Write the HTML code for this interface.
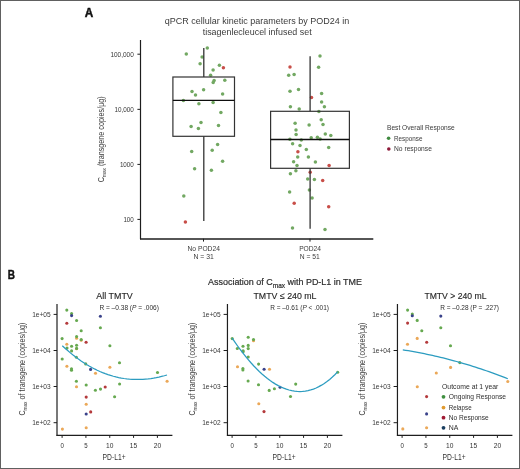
<!DOCTYPE html>
<html><head><meta charset="utf-8"><style>
html,body{margin:0;padding:0;background:#fff;}
svg{display:block;font-family:"Liberation Sans", sans-serif;will-change:transform;}
</style></head><body>
<svg width="520" height="469" viewBox="0 0 520 469">
<rect width="520" height="469" fill="#fff"/>
<rect x="0.5" y="0.5" width="519" height="468" fill="none" stroke="#606060" stroke-width="1"/>
<text x="84.8" y="17.0" font-size="11.9" textLength="8.5" lengthAdjust="spacingAndGlyphs" font-weight="bold" fill="#111" stroke="#111" stroke-width="0.45">A</text>
<text x="257" y="23.8" font-size="8.2" text-anchor="middle" textLength="184.3" lengthAdjust="spacingAndGlyphs" fill="#3a3a3a">qPCR cellular kinetic parameters by POD24 in</text>
<text x="257.2" y="34.8" font-size="8.2" text-anchor="middle" textLength="109" lengthAdjust="spacingAndGlyphs" fill="#3a3a3a">tisagenlecleucel infused set</text>
<line x1="140.5" y1="40" x2="140.5" y2="239.2" stroke="#1e1e1e" stroke-width="1.2"/>
<line x1="140" y1="238.9" x2="373.3" y2="238.9" stroke="#1e1e1e" stroke-width="1.5"/>
<line x1="137.4" y1="54.2" x2="140.5" y2="54.2" stroke="#1e1e1e" stroke-width="1"/>
<text x="133.8" y="56.8" font-size="7.3" text-anchor="end" textLength="23.4" lengthAdjust="spacingAndGlyphs" fill="#383838">100,000</text>
<line x1="137.4" y1="109.35" x2="140.5" y2="109.35" stroke="#1e1e1e" stroke-width="1"/>
<text x="133.8" y="111.95" font-size="7.3" text-anchor="end" textLength="19.4" lengthAdjust="spacingAndGlyphs" fill="#383838">10,000</text>
<line x1="137.4" y1="164.4" x2="140.5" y2="164.4" stroke="#1e1e1e" stroke-width="1"/>
<text x="133.8" y="167.0" font-size="7.3" text-anchor="end" textLength="13.9" lengthAdjust="spacingAndGlyphs" fill="#383838">1000</text>
<line x1="137.4" y1="219.4" x2="140.5" y2="219.4" stroke="#1e1e1e" stroke-width="1"/>
<text x="133.8" y="222.0" font-size="7.3" text-anchor="end" textLength="10.4" lengthAdjust="spacingAndGlyphs" fill="#383838">100</text>
<line x1="203.5" y1="238.7" x2="203.5" y2="241.6" stroke="#1e1e1e" stroke-width="1"/>
<line x1="310" y1="238.7" x2="310" y2="241.6" stroke="#1e1e1e" stroke-width="1"/>
<text x="203.7" y="250.7" font-size="6.7" text-anchor="middle" textLength="32.4" lengthAdjust="spacingAndGlyphs" fill="#3a3a3a">No POD24</text>
<text x="203.7" y="258.9" font-size="6.7" text-anchor="middle" textLength="20.3" lengthAdjust="spacingAndGlyphs" fill="#3a3a3a">N = 31</text>
<text x="310.1" y="250.7" font-size="6.7" text-anchor="middle" textLength="21.9" lengthAdjust="spacingAndGlyphs" fill="#3a3a3a">POD24</text>
<text x="309.8" y="258.9" font-size="6.7" text-anchor="middle" textLength="20.0" lengthAdjust="spacingAndGlyphs" fill="#3a3a3a">N = 51</text>
<text transform="translate(103.9,182.3) rotate(-90)" font-size="9" fill="#3a3a3a" textLength="86" lengthAdjust="spacingAndGlyphs">C<tspan font-size="6.0" dy="2.5">max</tspan><tspan dy="-2.5"> (transgene copies/μg)</tspan></text>
<circle cx="186.3" cy="53.9" r="1.75" fill="#72a862"/>
<circle cx="207.3" cy="47.9" r="1.75" fill="#72a862"/>
<circle cx="202.1" cy="57.1" r="1.75" fill="#72a862"/>
<circle cx="200.1" cy="63.7" r="1.75" fill="#72a862"/>
<circle cx="219.4" cy="65.3" r="1.75" fill="#72a862"/>
<circle cx="223.4" cy="67.8" r="1.75" fill="#c84e48"/>
<circle cx="213.1" cy="70.1" r="1.75" fill="#72a862"/>
<circle cx="210.6" cy="75.3" r="1.75" fill="#72a862"/>
<circle cx="214.1" cy="80.6" r="1.75" fill="#72a862"/>
<circle cx="213.2" cy="82.4" r="1.75" fill="#72a862"/>
<circle cx="224.8" cy="80.2" r="1.75" fill="#72a862"/>
<circle cx="192" cy="91.6" r="1.75" fill="#72a862"/>
<circle cx="195.5" cy="95" r="1.75" fill="#72a862"/>
<circle cx="203.6" cy="89.7" r="1.75" fill="#72a862"/>
<circle cx="222.6" cy="94" r="1.75" fill="#72a862"/>
<circle cx="183.4" cy="100.6" r="1.75" fill="#72a862"/>
<circle cx="198.9" cy="103.7" r="1.75" fill="#72a862"/>
<circle cx="213.1" cy="102.4" r="1.75" fill="#72a862"/>
<circle cx="220.9" cy="112.6" r="1.75" fill="#72a862"/>
<circle cx="201" cy="122.5" r="1.75" fill="#72a862"/>
<circle cx="191.1" cy="126.5" r="1.75" fill="#72a862"/>
<circle cx="198.4" cy="128.5" r="1.75" fill="#72a862"/>
<circle cx="218.5" cy="125.4" r="1.75" fill="#72a862"/>
<circle cx="217.6" cy="144.5" r="1.75" fill="#72a862"/>
<circle cx="191.7" cy="151.4" r="1.75" fill="#72a862"/>
<circle cx="212.2" cy="150.2" r="1.75" fill="#72a862"/>
<circle cx="222.6" cy="161.2" r="1.75" fill="#72a862"/>
<circle cx="194.6" cy="168.7" r="1.75" fill="#72a862"/>
<circle cx="211.4" cy="170.3" r="1.75" fill="#72a862"/>
<circle cx="183.8" cy="195.9" r="1.75" fill="#72a862"/>
<circle cx="185.4" cy="221.9" r="1.75" fill="#c84e48"/>
<circle cx="320" cy="56" r="1.75" fill="#72a862"/>
<circle cx="290" cy="66.9" r="1.75" fill="#c84e48"/>
<circle cx="318.6" cy="67.3" r="1.75" fill="#72a862"/>
<circle cx="288.7" cy="75.2" r="1.75" fill="#72a862"/>
<circle cx="294.1" cy="74.4" r="1.75" fill="#72a862"/>
<circle cx="290" cy="91.2" r="1.75" fill="#72a862"/>
<circle cx="298.5" cy="89.5" r="1.75" fill="#72a862"/>
<circle cx="321.6" cy="93.4" r="1.75" fill="#72a862"/>
<circle cx="311.5" cy="97.6" r="1.75" fill="#c84e48"/>
<circle cx="321.6" cy="102.1" r="1.75" fill="#72a862"/>
<circle cx="290.4" cy="106.7" r="1.75" fill="#72a862"/>
<circle cx="299.2" cy="108.9" r="1.75" fill="#72a862"/>
<circle cx="324.4" cy="106.8" r="1.75" fill="#72a862"/>
<circle cx="318.9" cy="111.5" r="1.75" fill="#72a862"/>
<circle cx="321.2" cy="119.8" r="1.75" fill="#72a862"/>
<circle cx="295.1" cy="123.3" r="1.75" fill="#72a862"/>
<circle cx="309.1" cy="125" r="1.75" fill="#72a862"/>
<circle cx="323" cy="124.5" r="1.75" fill="#72a862"/>
<circle cx="296" cy="130.1" r="1.75" fill="#72a862"/>
<circle cx="296.1" cy="134.5" r="1.75" fill="#72a862"/>
<circle cx="325.3" cy="133.9" r="1.75" fill="#72a862"/>
<circle cx="330.8" cy="135.6" r="1.75" fill="#72a862"/>
<circle cx="311.2" cy="137.7" r="1.75" fill="#72a862"/>
<circle cx="317.4" cy="137.2" r="1.75" fill="#72a862"/>
<circle cx="320.1" cy="139" r="1.75" fill="#72a862"/>
<circle cx="289.9" cy="139.3" r="1.75" fill="#72a862"/>
<circle cx="301.3" cy="140" r="1.75" fill="#72a862"/>
<circle cx="292.6" cy="143.7" r="1.75" fill="#72a862"/>
<circle cx="300" cy="145.5" r="1.75" fill="#72a862"/>
<circle cx="328.7" cy="147.6" r="1.75" fill="#72a862"/>
<circle cx="306.3" cy="149.5" r="1.75" fill="#72a862"/>
<circle cx="297.9" cy="151.8" r="1.75" fill="#c84e48"/>
<circle cx="297.7" cy="157.1" r="1.75" fill="#72a862"/>
<circle cx="308.4" cy="156.9" r="1.75" fill="#72a862"/>
<circle cx="293.6" cy="161.8" r="1.75" fill="#72a862"/>
<circle cx="315.4" cy="161.9" r="1.75" fill="#72a862"/>
<circle cx="297" cy="165.4" r="1.75" fill="#72a862"/>
<circle cx="329.1" cy="165.4" r="1.75" fill="#c84e48"/>
<circle cx="295.9" cy="170.7" r="1.75" fill="#72a862"/>
<circle cx="290.4" cy="173.7" r="1.75" fill="#72a862"/>
<circle cx="310.2" cy="172.2" r="1.75" fill="#c84e48"/>
<circle cx="307.7" cy="179" r="1.75" fill="#72a862"/>
<circle cx="314.4" cy="179.6" r="1.75" fill="#72a862"/>
<circle cx="322.7" cy="180.6" r="1.75" fill="#c84e48"/>
<circle cx="289.6" cy="192.1" r="1.75" fill="#72a862"/>
<circle cx="309.4" cy="190" r="1.75" fill="#72a862"/>
<circle cx="312.1" cy="198" r="1.75" fill="#72a862"/>
<circle cx="294.2" cy="203.2" r="1.75" fill="#c84e48"/>
<circle cx="328.7" cy="206.8" r="1.75" fill="#c84e48"/>
<circle cx="292.5" cy="227.9" r="1.75" fill="#72a862"/>
<circle cx="325" cy="229.6" r="1.75" fill="#72a862"/>
<line x1="203.8" y1="48.0" x2="203.8" y2="77.0" stroke="#333" stroke-width="1.3"/>
<line x1="203.8" y1="136.3" x2="203.8" y2="220.9" stroke="#333" stroke-width="1.3"/>
<rect x="172.9" y="77.0" width="61.60" height="59.30" fill="none" stroke="#333" stroke-width="1.2"/>
<line x1="172.9" y1="100.45" x2="234.5" y2="100.45" stroke="#0e0e0e" stroke-width="1.3"/>
<line x1="310.1" y1="56.3" x2="310.1" y2="111.3" stroke="#333" stroke-width="1.3"/>
<line x1="310.1" y1="168.3" x2="310.1" y2="228.7" stroke="#333" stroke-width="1.3"/>
<rect x="270.6" y="111.3" width="78.80" height="57.00" fill="none" stroke="#333" stroke-width="1.2"/>
<line x1="270.6" y1="139.5" x2="349.4" y2="139.5" stroke="#0e0e0e" stroke-width="1.3"/>
<text x="387" y="130.1" font-size="7.3" textLength="67.8" lengthAdjust="spacingAndGlyphs" fill="#3a3a3a">Best Overall Response</text>
<circle cx="388.6" cy="138.3" r="1.8" fill="#3f8a3f"/>
<text x="394" y="140.7" font-size="7.3" textLength="28.4" lengthAdjust="spacingAndGlyphs" fill="#3a3a3a">Response</text>
<circle cx="388.8" cy="149" r="1.8" fill="#8e1a3a"/>
<text x="394" y="151.1" font-size="7.3" textLength="37.9" lengthAdjust="spacingAndGlyphs" fill="#3a3a3a">No response</text>
<text x="7.8" y="278.6" font-size="12.4" textLength="7.2" lengthAdjust="spacingAndGlyphs" font-weight="bold" fill="#111" stroke="#111" stroke-width="0.45">B</text>
<text x="208" y="285.2" font-size="9.1" fill="#2e2e2e" stroke="#2e2e2e" stroke-width="0.2" textLength="154" lengthAdjust="spacingAndGlyphs">Association of C<tspan font-size="6.6" dy="2.3">max</tspan><tspan dy="-2.3"> with PD-L1 in TME</tspan></text>
<text transform="translate(24.80,415.6) rotate(-90)" font-size="9" fill="#3a3a3a" textLength="93" lengthAdjust="spacingAndGlyphs">C<tspan font-size="6.0" dy="2.6">max</tspan><tspan dy="-2.6"> of transgene (copies/μg)</tspan></text>
<line x1="57.0" y1="304" x2="57.0" y2="436.0" stroke="#1e1e1e" stroke-width="1.2"/>
<line x1="56.5" y1="435.4" x2="172.4" y2="435.4" stroke="#1e1e1e" stroke-width="1.2"/>
<line x1="53.6" y1="314.4" x2="57.0" y2="314.4" stroke="#1e1e1e" stroke-width="1"/>
<text x="50.7" y="316.7" font-size="6.7" text-anchor="end" textLength="18.5" lengthAdjust="spacingAndGlyphs" fill="#383838">1e+05</text>
<line x1="53.6" y1="350.5" x2="57.0" y2="350.5" stroke="#1e1e1e" stroke-width="1"/>
<text x="50.7" y="352.8" font-size="6.7" text-anchor="end" textLength="18.5" lengthAdjust="spacingAndGlyphs" fill="#383838">1e+04</text>
<line x1="53.6" y1="386.5" x2="57.0" y2="386.5" stroke="#1e1e1e" stroke-width="1"/>
<text x="50.7" y="388.8" font-size="6.7" text-anchor="end" textLength="18.5" lengthAdjust="spacingAndGlyphs" fill="#383838">1e+03</text>
<line x1="53.6" y1="422.7" x2="57.0" y2="422.7" stroke="#1e1e1e" stroke-width="1"/>
<text x="50.7" y="425.0" font-size="6.7" text-anchor="end" textLength="18.5" lengthAdjust="spacingAndGlyphs" fill="#383838">1e+02</text>
<line x1="62.1" y1="435.4" x2="62.1" y2="437.9" stroke="#1e1e1e" stroke-width="1"/>
<text x="62.1" y="447.5" font-size="6.3" text-anchor="middle" textLength="3.4" lengthAdjust="spacingAndGlyphs" fill="#333">0</text>
<line x1="85.92" y1="435.4" x2="85.92" y2="437.9" stroke="#1e1e1e" stroke-width="1"/>
<text x="85.92" y="447.5" font-size="6.3" text-anchor="middle" textLength="3.4" lengthAdjust="spacingAndGlyphs" fill="#333">5</text>
<line x1="109.75" y1="435.4" x2="109.75" y2="437.9" stroke="#1e1e1e" stroke-width="1"/>
<text x="109.75" y="447.5" font-size="6.3" text-anchor="middle" textLength="7.4" lengthAdjust="spacingAndGlyphs" fill="#333">10</text>
<line x1="133.57" y1="435.4" x2="133.57" y2="437.9" stroke="#1e1e1e" stroke-width="1"/>
<text x="133.57" y="447.5" font-size="6.3" text-anchor="middle" textLength="7.4" lengthAdjust="spacingAndGlyphs" fill="#333">15</text>
<line x1="157.4" y1="435.4" x2="157.4" y2="437.9" stroke="#1e1e1e" stroke-width="1"/>
<text x="157.4" y="447.5" font-size="6.3" text-anchor="middle" textLength="7.4" lengthAdjust="spacingAndGlyphs" fill="#333">20</text>
<text x="114.1" y="459.8" font-size="8.9" text-anchor="middle" textLength="23.0" lengthAdjust="spacingAndGlyphs" fill="#333">PD-L1+</text>
<text x="96.3" y="298.7" font-size="9.1" textLength="36.5" lengthAdjust="spacingAndGlyphs" fill="#262626" stroke="#262626" stroke-width="0.14">All TMTV</text>
<text x="99.4" y="310.3" font-size="6.8" textLength="59.5" lengthAdjust="spacingAndGlyphs" fill="#2e2e2e">R = –0.38 (<tspan font-style="italic">P</tspan> = .006)</text>
<circle cx="66.8" cy="310.1" r="1.55" fill="#66a950"/>
<circle cx="71.6" cy="313.6" r="1.55" fill="#66a950"/>
<circle cx="71.6" cy="315.6" r="1.55" fill="#3a428a"/>
<circle cx="76.6" cy="320.5" r="1.55" fill="#66a950"/>
<circle cx="66.8" cy="323.2" r="1.55" fill="#b43a3c"/>
<circle cx="100.4" cy="316.2" r="1.55" fill="#3a428a"/>
<circle cx="81.2" cy="330.7" r="1.55" fill="#66a950"/>
<circle cx="100.4" cy="327.7" r="1.55" fill="#66a950"/>
<circle cx="62.1" cy="338.6" r="1.55" fill="#66a950"/>
<circle cx="76.6" cy="338.2" r="1.55" fill="#eba858"/>
<circle cx="76.6" cy="336.6" r="1.55" fill="#66a950"/>
<circle cx="81.2" cy="340.2" r="1.55" fill="#eba858"/>
<circle cx="81.2" cy="339.6" r="1.55" fill="#66a950"/>
<circle cx="86.1" cy="342.3" r="1.55" fill="#b43a3c"/>
<circle cx="66.8" cy="344.2" r="1.55" fill="#eba858"/>
<circle cx="71.6" cy="346.3" r="1.55" fill="#66a950"/>
<circle cx="76.6" cy="345.3" r="1.55" fill="#66a950"/>
<circle cx="67.0" cy="348.1" r="1.55" fill="#66a950"/>
<circle cx="76.6" cy="348.8" r="1.55" fill="#eba858"/>
<circle cx="76.6" cy="348.4" r="1.55" fill="#66a950"/>
<circle cx="71.6" cy="350.9" r="1.55" fill="#66a950"/>
<circle cx="76.4" cy="357.2" r="1.55" fill="#66a950"/>
<circle cx="85.7" cy="363.9" r="1.55" fill="#66a950"/>
<circle cx="109.9" cy="345.7" r="1.55" fill="#66a950"/>
<circle cx="62.2" cy="359.0" r="1.55" fill="#66a950"/>
<circle cx="66.9" cy="366.3" r="1.55" fill="#eba858"/>
<circle cx="71.5" cy="368.8" r="1.55" fill="#66a950"/>
<circle cx="71.5" cy="370.2" r="1.55" fill="#66a950"/>
<circle cx="90.6" cy="369.4" r="1.55" fill="#3a428a"/>
<circle cx="95.5" cy="373.2" r="1.55" fill="#eba858"/>
<circle cx="109.9" cy="367.3" r="1.55" fill="#eba858"/>
<circle cx="119.5" cy="362.8" r="1.55" fill="#66a950"/>
<circle cx="157.5" cy="372.5" r="1.55" fill="#66a950"/>
<circle cx="167.1" cy="381.3" r="1.55" fill="#eba858"/>
<circle cx="76.4" cy="381.2" r="1.55" fill="#66a950"/>
<circle cx="76.5" cy="386.7" r="1.55" fill="#eba858"/>
<circle cx="86.2" cy="385.0" r="1.55" fill="#66a950"/>
<circle cx="95.4" cy="390.2" r="1.55" fill="#66a950"/>
<circle cx="100.5" cy="389.1" r="1.55" fill="#66a950"/>
<circle cx="105.2" cy="387.0" r="1.55" fill="#b43a3c"/>
<circle cx="119.6" cy="384.0" r="1.55" fill="#66a950"/>
<circle cx="114.6" cy="396.8" r="1.55" fill="#66a950"/>
<circle cx="86.2" cy="397.1" r="1.55" fill="#b43a3c"/>
<circle cx="86.2" cy="404.2" r="1.55" fill="#eba858"/>
<circle cx="90.7" cy="411.9" r="1.55" fill="#b43a3c"/>
<circle cx="86.2" cy="414.0" r="1.55" fill="#3a428a"/>
<circle cx="62.4" cy="429.1" r="1.55" fill="#eba858"/>
<circle cx="86.2" cy="427.8" r="1.55" fill="#eba858"/>
<path d="M62.30,345.73 L64.98,348.21 L67.67,350.59 L70.35,352.86 L73.04,355.04 L75.72,357.11 L78.41,359.09 L81.09,360.97 L83.78,362.75 L86.46,364.44 L89.15,366.03 L91.83,367.53 L94.52,368.93 L97.20,370.25 L99.88,371.47 L102.57,372.60 L105.25,373.64 L107.94,374.59 L110.62,375.45 L113.31,376.23 L115.99,376.93 L118.68,377.53 L121.36,378.06 L124.05,378.50 L126.73,378.85 L129.42,379.13 L132.10,379.33 L134.78,379.44 L137.47,379.48 L140.15,379.44 L142.84,379.33 L145.52,379.13 L148.21,378.87 L150.89,378.53 L153.58,378.11 L156.26,377.63 L158.95,377.07 L161.63,376.44 L164.32,375.75 L167.00,374.98" fill="none" stroke="#2c9cc0" stroke-width="1.25"/>
<text transform="translate(194.80,415.6) rotate(-90)" font-size="9" fill="#3a3a3a" textLength="93" lengthAdjust="spacingAndGlyphs">C<tspan font-size="6.0" dy="2.6">max</tspan><tspan dy="-2.6"> of transgene (copies/μg)</tspan></text>
<line x1="227.45" y1="304" x2="227.45" y2="436.0" stroke="#1e1e1e" stroke-width="1.2"/>
<line x1="226.95" y1="435.4" x2="342.4" y2="435.4" stroke="#1e1e1e" stroke-width="1.2"/>
<line x1="223.6" y1="314.4" x2="227.0" y2="314.4" stroke="#1e1e1e" stroke-width="1"/>
<text x="220.7" y="316.7" font-size="6.7" text-anchor="end" textLength="18.5" lengthAdjust="spacingAndGlyphs" fill="#383838">1e+05</text>
<line x1="223.6" y1="350.5" x2="227.0" y2="350.5" stroke="#1e1e1e" stroke-width="1"/>
<text x="220.7" y="352.8" font-size="6.7" text-anchor="end" textLength="18.5" lengthAdjust="spacingAndGlyphs" fill="#383838">1e+04</text>
<line x1="223.6" y1="386.5" x2="227.0" y2="386.5" stroke="#1e1e1e" stroke-width="1"/>
<text x="220.7" y="388.8" font-size="6.7" text-anchor="end" textLength="18.5" lengthAdjust="spacingAndGlyphs" fill="#383838">1e+03</text>
<line x1="223.6" y1="422.7" x2="227.0" y2="422.7" stroke="#1e1e1e" stroke-width="1"/>
<text x="220.7" y="425.0" font-size="6.7" text-anchor="end" textLength="18.5" lengthAdjust="spacingAndGlyphs" fill="#383838">1e+02</text>
<line x1="232.1" y1="435.4" x2="232.1" y2="437.9" stroke="#1e1e1e" stroke-width="1"/>
<text x="232.1" y="447.5" font-size="6.3" text-anchor="middle" textLength="3.4" lengthAdjust="spacingAndGlyphs" fill="#333">0</text>
<line x1="255.92" y1="435.4" x2="255.92" y2="437.9" stroke="#1e1e1e" stroke-width="1"/>
<text x="255.92" y="447.5" font-size="6.3" text-anchor="middle" textLength="3.4" lengthAdjust="spacingAndGlyphs" fill="#333">5</text>
<line x1="279.75" y1="435.4" x2="279.75" y2="437.9" stroke="#1e1e1e" stroke-width="1"/>
<text x="279.75" y="447.5" font-size="6.3" text-anchor="middle" textLength="7.4" lengthAdjust="spacingAndGlyphs" fill="#333">10</text>
<line x1="303.57" y1="435.4" x2="303.57" y2="437.9" stroke="#1e1e1e" stroke-width="1"/>
<text x="303.57" y="447.5" font-size="6.3" text-anchor="middle" textLength="7.4" lengthAdjust="spacingAndGlyphs" fill="#333">15</text>
<line x1="327.4" y1="435.4" x2="327.4" y2="437.9" stroke="#1e1e1e" stroke-width="1"/>
<text x="327.4" y="447.5" font-size="6.3" text-anchor="middle" textLength="7.4" lengthAdjust="spacingAndGlyphs" fill="#333">20</text>
<text x="284.1" y="459.8" font-size="8.9" text-anchor="middle" textLength="23.0" lengthAdjust="spacingAndGlyphs" fill="#333">PD-L1+</text>
<text x="253.5" y="298.7" font-size="9.1" textLength="63" lengthAdjust="spacingAndGlyphs" fill="#262626" stroke="#262626" stroke-width="0.14">TMTV ≤ 240 mL</text>
<text x="270.2" y="310.3" font-size="6.8" textLength="58.8" lengthAdjust="spacingAndGlyphs" fill="#2e2e2e">R = –0.61 (<tspan font-style="italic">P</tspan> &lt; .001)</text>
<circle cx="232.2" cy="338.6" r="1.55" fill="#66a950"/>
<circle cx="248.2" cy="337.3" r="1.55" fill="#66a950"/>
<circle cx="253.5" cy="340.8" r="1.55" fill="#eba858"/>
<circle cx="253.5" cy="339.6" r="1.55" fill="#66a950"/>
<circle cx="243.0" cy="346.2" r="1.55" fill="#66a950"/>
<circle cx="248.2" cy="345.4" r="1.55" fill="#66a950"/>
<circle cx="248.2" cy="348.6" r="1.55" fill="#66a950"/>
<circle cx="237.3" cy="348.5" r="1.55" fill="#66a950"/>
<circle cx="243.1" cy="350.7" r="1.55" fill="#66a950"/>
<circle cx="243.1" cy="351.8" r="1.55" fill="#66a950"/>
<circle cx="248.2" cy="357.0" r="1.55" fill="#66a950"/>
<circle cx="258.6" cy="364.1" r="1.55" fill="#66a950"/>
<circle cx="237.5" cy="366.7" r="1.55" fill="#eba858"/>
<circle cx="242.9" cy="368.5" r="1.55" fill="#66a950"/>
<circle cx="242.9" cy="370.0" r="1.55" fill="#66a950"/>
<circle cx="264.1" cy="369.2" r="1.55" fill="#3a428a"/>
<circle cx="269.5" cy="369.2" r="1.55" fill="#eba858"/>
<circle cx="248.1" cy="381.0" r="1.55" fill="#66a950"/>
<circle cx="258.5" cy="384.7" r="1.55" fill="#66a950"/>
<circle cx="269.2" cy="390.4" r="1.55" fill="#66a950"/>
<circle cx="274.4" cy="388.8" r="1.55" fill="#66a950"/>
<circle cx="280.1" cy="387.3" r="1.55" fill="#3a428a"/>
<circle cx="295.7" cy="384.1" r="1.55" fill="#66a950"/>
<circle cx="290.5" cy="396.5" r="1.55" fill="#66a950"/>
<circle cx="337.7" cy="372.3" r="1.55" fill="#66a950"/>
<circle cx="258.8" cy="403.8" r="1.55" fill="#eba858"/>
<circle cx="264.0" cy="411.6" r="1.55" fill="#b43a3c"/>
<path d="M232.20,338.22 L234.91,342.17 L237.62,345.99 L240.32,349.67 L243.03,353.22 L245.74,356.62 L248.45,359.88 L251.15,363.00 L253.86,365.97 L256.57,368.78 L259.28,371.45 L261.98,373.96 L264.69,376.31 L267.40,378.50 L270.11,380.54 L272.82,382.40 L275.52,384.10 L278.23,385.63 L280.94,386.99 L283.65,388.18 L286.35,389.18 L289.06,390.01 L291.77,390.66 L294.48,391.13 L297.18,391.41 L299.89,391.50 L302.60,391.40 L305.31,391.11 L308.02,390.62 L310.72,389.93 L313.43,389.05 L316.14,387.96 L318.85,386.67 L321.55,385.17 L324.26,383.46 L326.97,381.54 L329.68,379.40 L332.38,377.05 L335.09,374.48 L337.80,371.68" fill="none" stroke="#2c9cc0" stroke-width="1.25"/>
<text transform="translate(364.80,415.6) rotate(-90)" font-size="9" fill="#3a3a3a" textLength="93" lengthAdjust="spacingAndGlyphs">C<tspan font-size="6.0" dy="2.6">max</tspan><tspan dy="-2.6"> of transgene (copies/μg)</tspan></text>
<line x1="397.45" y1="304" x2="397.45" y2="436.0" stroke="#1e1e1e" stroke-width="1.2"/>
<line x1="396.95" y1="435.4" x2="512.4" y2="435.4" stroke="#1e1e1e" stroke-width="1.2"/>
<line x1="393.6" y1="314.4" x2="397.0" y2="314.4" stroke="#1e1e1e" stroke-width="1"/>
<text x="390.7" y="316.7" font-size="6.7" text-anchor="end" textLength="18.5" lengthAdjust="spacingAndGlyphs" fill="#383838">1e+05</text>
<line x1="393.6" y1="350.5" x2="397.0" y2="350.5" stroke="#1e1e1e" stroke-width="1"/>
<text x="390.7" y="352.8" font-size="6.7" text-anchor="end" textLength="18.5" lengthAdjust="spacingAndGlyphs" fill="#383838">1e+04</text>
<line x1="393.6" y1="386.5" x2="397.0" y2="386.5" stroke="#1e1e1e" stroke-width="1"/>
<text x="390.7" y="388.8" font-size="6.7" text-anchor="end" textLength="18.5" lengthAdjust="spacingAndGlyphs" fill="#383838">1e+03</text>
<line x1="393.6" y1="422.7" x2="397.0" y2="422.7" stroke="#1e1e1e" stroke-width="1"/>
<text x="390.7" y="425.0" font-size="6.7" text-anchor="end" textLength="18.5" lengthAdjust="spacingAndGlyphs" fill="#383838">1e+02</text>
<line x1="402.1" y1="435.4" x2="402.1" y2="437.9" stroke="#1e1e1e" stroke-width="1"/>
<text x="402.1" y="447.5" font-size="6.3" text-anchor="middle" textLength="3.4" lengthAdjust="spacingAndGlyphs" fill="#333">0</text>
<line x1="425.93" y1="435.4" x2="425.93" y2="437.9" stroke="#1e1e1e" stroke-width="1"/>
<text x="425.93" y="447.5" font-size="6.3" text-anchor="middle" textLength="3.4" lengthAdjust="spacingAndGlyphs" fill="#333">5</text>
<line x1="449.75" y1="435.4" x2="449.75" y2="437.9" stroke="#1e1e1e" stroke-width="1"/>
<text x="449.75" y="447.5" font-size="6.3" text-anchor="middle" textLength="7.4" lengthAdjust="spacingAndGlyphs" fill="#333">10</text>
<line x1="473.58" y1="435.4" x2="473.58" y2="437.9" stroke="#1e1e1e" stroke-width="1"/>
<text x="473.58" y="447.5" font-size="6.3" text-anchor="middle" textLength="7.4" lengthAdjust="spacingAndGlyphs" fill="#333">15</text>
<line x1="497.4" y1="435.4" x2="497.4" y2="437.9" stroke="#1e1e1e" stroke-width="1"/>
<text x="497.4" y="447.5" font-size="6.3" text-anchor="middle" textLength="7.4" lengthAdjust="spacingAndGlyphs" fill="#333">20</text>
<text x="454.1" y="459.8" font-size="8.9" text-anchor="middle" textLength="23.0" lengthAdjust="spacingAndGlyphs" fill="#333">PD-L1+</text>
<text x="424.4" y="298.7" font-size="9.1" textLength="62.1" lengthAdjust="spacingAndGlyphs" fill="#262626" stroke="#262626" stroke-width="0.14">TMTV &gt; 240 mL</text>
<text x="440.2" y="310.3" font-size="6.8" textLength="58.8" lengthAdjust="spacingAndGlyphs" fill="#2e2e2e">R = –0.28 (P = .227)</text>
<circle cx="407.6" cy="310.1" r="1.55" fill="#66a950"/>
<circle cx="412.3" cy="314.0" r="1.55" fill="#66a950"/>
<circle cx="412.3" cy="315.7" r="1.55" fill="#3a428a"/>
<circle cx="417.2" cy="320.4" r="1.55" fill="#66a950"/>
<circle cx="407.6" cy="323.1" r="1.55" fill="#b43a3c"/>
<circle cx="440.8" cy="316.1" r="1.55" fill="#3a428a"/>
<circle cx="440.8" cy="327.7" r="1.55" fill="#66a950"/>
<circle cx="421.8" cy="330.8" r="1.55" fill="#66a950"/>
<circle cx="417.2" cy="338.4" r="1.55" fill="#eba858"/>
<circle cx="426.7" cy="342.3" r="1.55" fill="#b43a3c"/>
<circle cx="407.5" cy="344.3" r="1.55" fill="#eba858"/>
<circle cx="450.5" cy="345.8" r="1.55" fill="#66a950"/>
<circle cx="459.8" cy="362.6" r="1.55" fill="#66a950"/>
<circle cx="450.6" cy="367.4" r="1.55" fill="#eba858"/>
<circle cx="436.3" cy="373.0" r="1.55" fill="#eba858"/>
<circle cx="507.8" cy="381.5" r="1.55" fill="#eba858"/>
<circle cx="417.3" cy="386.7" r="1.55" fill="#eba858"/>
<circle cx="426.6" cy="396.6" r="1.55" fill="#b43a3c"/>
<circle cx="426.6" cy="413.9" r="1.55" fill="#3a428a"/>
<circle cx="402.8" cy="428.9" r="1.55" fill="#eba858"/>
<circle cx="426.6" cy="427.8" r="1.55" fill="#eba858"/>
<path d="M402.80,349.85 L405.49,350.28 L408.18,350.72 L410.88,351.18 L413.57,351.66 L416.26,352.15 L418.95,352.66 L421.65,353.18 L424.34,353.73 L427.03,354.28 L429.72,354.86 L432.42,355.45 L435.11,356.06 L437.80,356.68 L440.49,357.32 L443.18,357.98 L445.88,358.66 L448.57,359.35 L451.26,360.06 L453.95,360.78 L456.65,361.52 L459.34,362.28 L462.03,363.05 L464.72,363.84 L467.42,364.65 L470.11,365.47 L472.80,366.31 L475.49,367.17 L478.18,368.04 L480.88,368.93 L483.57,369.84 L486.26,370.76 L488.95,371.70 L491.65,372.66 L494.34,373.63 L497.03,374.62 L499.72,375.62 L502.42,376.64 L505.11,377.68 L507.80,378.74" fill="none" stroke="#2c9cc0" stroke-width="1.25"/>
<text x="442" y="388.8" font-size="7.3" textLength="56.3" lengthAdjust="spacingAndGlyphs" fill="#2e2e2e">Outcome at 1 year</text>
<circle cx="443.5" cy="396.8" r="1.9" fill="#3f8f3f"/>
<text x="448.8" y="399.0" font-size="7.3" textLength="57.2" lengthAdjust="spacingAndGlyphs" fill="#2e2e2e">Ongoing Response</text>
<circle cx="443.5" cy="407.6" r="1.9" fill="#e09a30"/>
<text x="448.8" y="409.8" font-size="7.3" textLength="22.8" lengthAdjust="spacingAndGlyphs" fill="#2e2e2e">Relapse</text>
<circle cx="443.5" cy="417.7" r="1.9" fill="#a01a34"/>
<text x="448.8" y="419.9" font-size="7.3" textLength="39.9" lengthAdjust="spacingAndGlyphs" fill="#2e2e2e">No Response</text>
<circle cx="443.5" cy="427.8" r="1.9" fill="#1a3f60"/>
<text x="448.8" y="430.0" font-size="7.3" textLength="9.6" lengthAdjust="spacingAndGlyphs" fill="#2e2e2e">NA</text>
</svg>
</body></html>
